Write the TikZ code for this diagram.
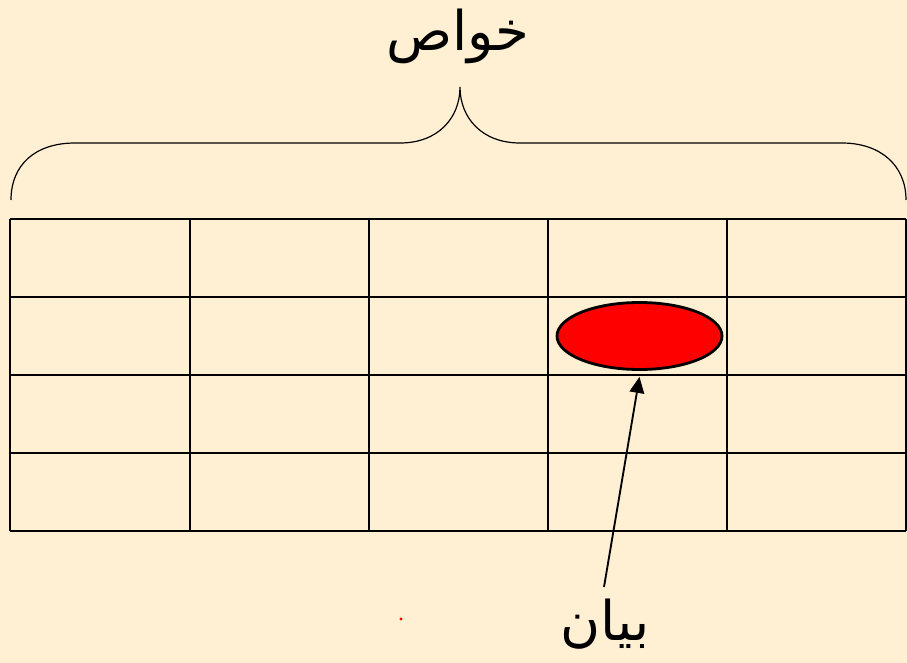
\documentclass[tikz,border=0pt]{standalone}
\usepackage{fontspec}
\usetikzlibrary{shapes.geometric,arrows.meta}
\TeXXeTstate=1
\newfontfamily\arabicfont[Script=Arabic]{DejaVu Sans}
\definecolor{bgcream}{HTML}{FFF0D4}
\tikzset{
  gridline/.style={line width=2.1pt,black},
  braceline/.style={line width=0.9pt,black},
  label/.style={font=\arabicfont\fontsize{41}{48}\selectfont,inner sep=0pt},
}
\begin{document}
\begin{tikzpicture}[x=0.75pt,y=-0.75pt]
\fill[bgcream] (0,0) rectangle (907,663);
\useasboundingbox (0,0) rectangle (907,663);
% grid
\foreach \yy in {219,297,375,453,531} \draw[gridline] (10,\yy) -- (906,\yy);
\foreach \xx in {10,190,369,548,727,906} \draw[gridline] (\xx,219) -- (\xx,531);
% brace
\coordinate (bl) at (11,200);
\coordinate (br) at (906,200);
\coordinate (btip) at (460,87);
\draw[braceline] (bl) .. controls (11,165) and (35,143) .. (75,143) -- (400,143)
  .. controls (438,143) and (460,118) .. (btip)
  .. controls (460,118) and (482,143) .. (520,143) -- (842,143)
  .. controls (880,143) and (906,165) .. (br);
\node[label] (title) at (458,36) {\beginR خواص\endR};
% ellipse
\node[ellipse,draw=black,line width=2.1pt,fill=red,minimum width=165*0.75pt,minimum height=67*0.75pt,inner sep=0pt] (expr) at (639.5,336) {};
\coordinate (astart) at (604,587);
\draw[line width=1.4pt,-{Triangle[length=12pt,width=11pt]}] (astart) -- ([yshift=-4.5pt]expr.south);
\node[label] (bayan) at (605,624) {\beginR بیان\endR};
\fill[red] (401,619) circle (1.6);
\end{tikzpicture}
\end{document}
